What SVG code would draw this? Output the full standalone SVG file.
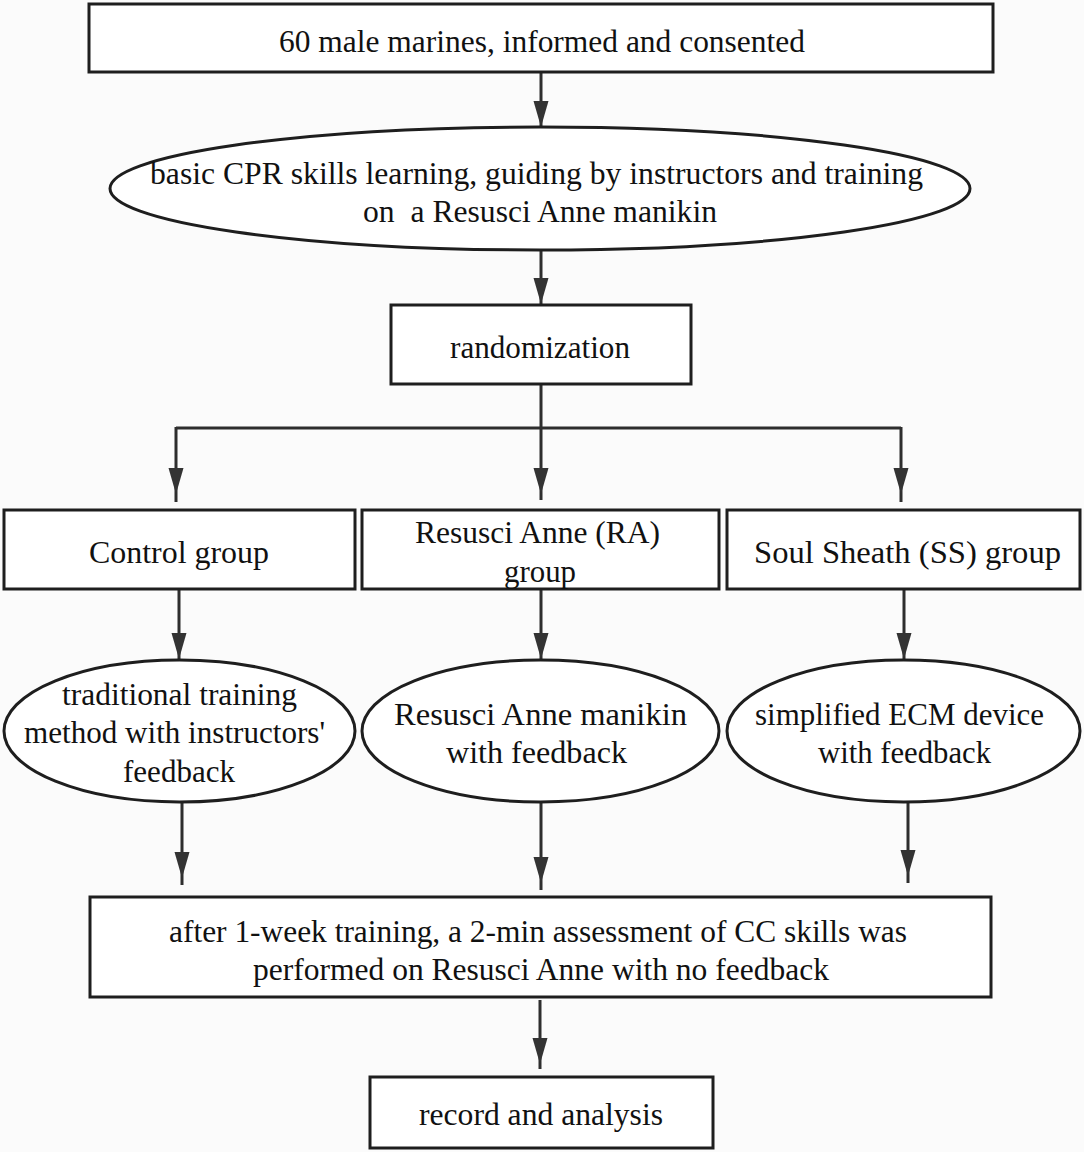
<svg xmlns="http://www.w3.org/2000/svg" xmlns:xlink="http://www.w3.org/1999/xlink" width="1084" height="1152" viewBox="0 0 1084 1152">
<style>
.box{fill:#ffffff;stroke:#1e1e1e;stroke-width:3}
.ell{fill:#ffffff;stroke:#1e1e1e;stroke-width:3}
.ln{fill:none;stroke:#2e2e2e;stroke-width:3}
.ah{fill:#333333}
text{font-family:"Liberation Serif","Times New Roman",serif;font-size:31px;fill:#111111;text-anchor:middle}
</style>
<defs>
<path id="ah" d="M0,0 L-7.5,-26 L7.5,-26 Z"/>
</defs>
<rect x="0" y="0" width="1084" height="1152" fill="#fbfbfb"/>
<g id="connectors">
<path class="ln" d="M541,72 V127"/>
<use xlink:href="#ah" class="ah" x="541" y="127"/>
<path class="ln" d="M541,250 V305"/>
<use xlink:href="#ah" class="ah" x="541" y="304"/>
<path class="ln" d="M541,384 V500 M176,428 H901 M176,427 V502 M901,427 V502"/>
<use xlink:href="#ah" class="ah" x="176" y="494"/>
<use xlink:href="#ah" class="ah" x="541" y="494"/>
<use xlink:href="#ah" class="ah" x="901" y="494"/>
<path class="ln" d="M179,589 V660 M541,589 V660 M904,589 V660"/>
<use xlink:href="#ah" class="ah" x="179" y="659"/>
<use xlink:href="#ah" class="ah" x="541" y="659"/>
<use xlink:href="#ah" class="ah" x="904" y="659"/>
<path class="ln" d="M182,802 V885 M541,802 V890 M908,802 V883"/>
<use xlink:href="#ah" class="ah" x="182" y="878"/>
<use xlink:href="#ah" class="ah" x="541" y="883"/>
<use xlink:href="#ah" class="ah" x="908" y="876"/>
<path class="ln" d="M540,1000 V1069"/>
<use xlink:href="#ah" class="ah" x="540" y="1064"/>
</g>
<g id="n-start">
<rect class="box" x="89" y="4" width="904" height="68"/>
<text x="542" y="52" textLength="526" lengthAdjust="spacingAndGlyphs">60 male marines, informed and consented</text>
</g>
<g id="n-basic">
<ellipse class="ell" cx="540" cy="188.5" rx="430" ry="61.5"/>
<text x="536.5" y="184" textLength="773" lengthAdjust="spacingAndGlyphs">basic CPR skills learning, guiding by instructors and training</text>
<text x="540" y="222" textLength="354" lengthAdjust="spacingAndGlyphs" xml:space="preserve">on  a Resusci Anne manikin</text>
</g>
<g id="n-random">
<rect class="box" x="391" y="305" width="300" height="79"/>
<text x="540" y="358" textLength="180" lengthAdjust="spacingAndGlyphs">randomization</text>
</g>
<g id="n-control">
<rect class="box" x="4" y="510" width="351" height="79"/>
<text x="179" y="563" textLength="180" lengthAdjust="spacingAndGlyphs">Control group</text>
</g>
<g id="n-ra">
<rect class="box" x="362" y="510" width="357" height="79"/>
<text x="537.5" y="543" textLength="245" lengthAdjust="spacingAndGlyphs">Resusci Anne (RA)</text>
<text x="540" y="582" textLength="72" lengthAdjust="spacingAndGlyphs">group</text>
</g>
<g id="n-ss">
<rect class="box" x="727" y="510" width="353" height="79"/>
<text x="907.5" y="563" textLength="307" lengthAdjust="spacingAndGlyphs">Soul Sheath (SS) group</text>
</g>
<g id="n-trad">
<ellipse class="ell" cx="179.5" cy="731" rx="175.5" ry="71"/>
<text x="179.5" y="705" textLength="235" lengthAdjust="spacingAndGlyphs">traditional training</text>
<text x="174.5" y="743" textLength="301" lengthAdjust="spacingAndGlyphs">method with instructors'</text>
<text x="179" y="782" textLength="112" lengthAdjust="spacingAndGlyphs">feedback</text>
</g>
<g id="n-ramanikin">
<ellipse class="ell" cx="540.5" cy="731" rx="178.5" ry="71"/>
<text x="540.5" y="725" textLength="293" lengthAdjust="spacingAndGlyphs">Resusci Anne manikin</text>
<text x="536.5" y="763" textLength="181" lengthAdjust="spacingAndGlyphs">with feedback</text>
</g>
<g id="n-ecm">
<ellipse class="ell" cx="903.5" cy="731" rx="176.5" ry="71"/>
<text x="899.5" y="725" textLength="289" lengthAdjust="spacingAndGlyphs">simplified ECM device</text>
<text x="904.5" y="763" textLength="173" lengthAdjust="spacingAndGlyphs">with feedback</text>
</g>
<g id="n-assess">
<rect class="box" x="90" y="897" width="901" height="100"/>
<text x="538" y="942" textLength="738" lengthAdjust="spacingAndGlyphs">after 1-week training, a 2-min assessment of CC skills was</text>
<text x="541" y="980" textLength="576" lengthAdjust="spacingAndGlyphs">performed on Resusci Anne with no feedback</text>
</g>
<g id="n-record">
<rect class="box" x="370" y="1077" width="343" height="71"/>
<text x="541" y="1125" textLength="244" lengthAdjust="spacingAndGlyphs">record and analysis</text>
</g>
</svg>
